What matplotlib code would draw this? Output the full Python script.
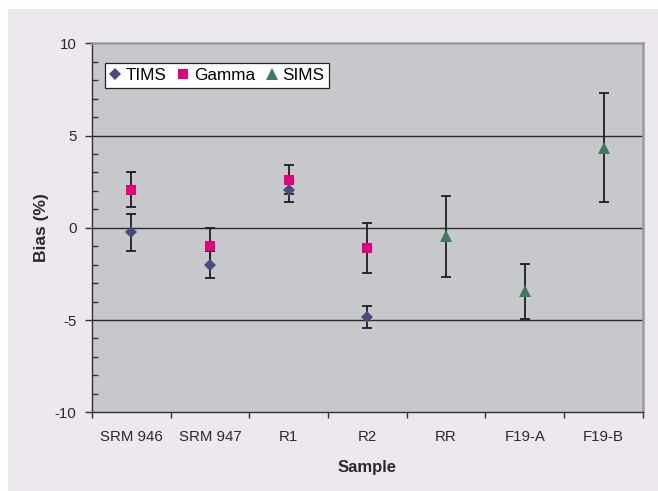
import numpy as np
import matplotlib
matplotlib.use("Agg")
import matplotlib.pyplot as plt
from matplotlib.patches import Rectangle
from matplotlib.ticker import FixedLocator, MultipleLocator

plt.rcParams['font.family'] = ['Liberation Sans', 'DejaVu Sans']
plt.rcParams['axes.unicode_minus'] = False

samples = ['SRM 946', 'SRM 947', 'R1', 'R2', 'RR', 'F19-A', 'F19-B']

tims_bias = [-0.25, -1.99, 2.06, -4.83, np.nan, np.nan, np.nan]
tims_err = [1.02, 0.75, 0.65, 0.58, np.nan, np.nan, np.nan]
gamma_bias = [2.07, -1.01, 2.61, -1.10, np.nan, np.nan, np.nan]
gamma_err = [0.95, 1.00, 0.80, 1.35, np.nan, np.nan, np.nan]
sims_bias = [np.nan, np.nan, np.nan, np.nan, -0.47, -3.45, 4.35]
sims_err = [np.nan, np.nan, np.nan, np.nan, 2.19, 1.49, 2.94]

fig = plt.figure(figsize=(6.58, 4.91), dpi=100, facecolor='white')
# lavender panel behind the chart
fig.add_artist(Rectangle((8 / 658, 0), 1, 1 - 9 / 491, transform=fig.transFigure,
                         facecolor='#EDE7EE', edgecolor='none', zorder=-10))

ax = fig.add_axes([0.1395, 0.1603, 0.8375, 0.7515])
ax.set_facecolor('#C7C8CC')

x = np.arange(len(samples))

for yy in (-5, 0, 5):
    ax.axhline(yy, color='#2a2a2a', lw=1.0, zorder=1)

series = [
    (tims_bias, tims_err, 'D', 6.6, '#4B4A80', 'TIMS'),
    (gamma_bias, gamma_err, 's', 7.4, '#E5007D', 'Gamma'),
    (sims_bias, sims_err, '^', 8.8, '#3E7A5E', 'SIMS'),
]
for vals, errs, mk, ms, col, lab in series:
    ax.errorbar(x, vals, yerr=errs, fmt='none', ecolor='#1e1e1e', elinewidth=1.3,
                capsize=3.8, capthick=1.3, zorder=2)
for vals, errs, mk, ms, col, lab in series:
    ax.plot(x, vals, linestyle='none', marker=mk, markersize=ms, color=col,
            markeredgewidth=0, label=lab, zorder=3)

ax.set_xlim(-0.5, len(samples) - 0.5)
ax.set_ylim(-10, 10)

# x ticks at category boundaries, labels at centres
ax.xaxis.set_major_locator(FixedLocator(np.arange(-0.5, len(samples), 1.0)))
ax.xaxis.set_minor_locator(FixedLocator(x))
ax.set_xticklabels([], minor=False)
ax.set_xticklabels(samples, minor=True)
ax.tick_params(axis='x', which='major', direction='out', length=4, width=1, color='#333333')
ax.tick_params(axis='x', which='minor', length=0, pad=13, labelsize=10.8, labelcolor='#2a2a2a')

ax.yaxis.set_major_locator(FixedLocator([-10, -5, 0, 5, 10]))
ax.yaxis.set_minor_locator(MultipleLocator(1))
ax.tick_params(axis='y', which='major', direction='out', length=5, width=1, color='#333333',
               pad=6, labelsize=10.8, labelcolor='#2a2a2a')
ax.tick_params(axis='y', which='minor', direction='in', length=4, width=1, color='#333333')

for s in ('left', 'bottom'):
    ax.spines[s].set_color('#333333')
    ax.spines[s].set_linewidth(1.0)
for s in ('top', 'right'):
    ax.spines[s].set_color('#9A9A9E')
    ax.spines[s].set_linewidth(1.8)

ax.set_ylabel('Bias (%)', fontsize=12.5, fontweight='bold', color='#2a2a2a', labelpad=4)
ax.set_xlabel('Sample', fontsize=12, fontweight='bold', color='#2a2a2a', labelpad=11)

leg = ax.legend(loc='upper left', bbox_to_anchor=(0.024, 0.947), borderaxespad=0,
                ncol=3, fontsize=12.3, frameon=True, fancybox=False, framealpha=1,
                edgecolor='#222222', handlelength=0.6, handletextpad=0.3,
                columnspacing=0.7, borderpad=0.3)
leg.get_frame().set_linewidth(0.9)

fig.savefig('out.png', dpi=100, facecolor=fig.get_facecolor())
